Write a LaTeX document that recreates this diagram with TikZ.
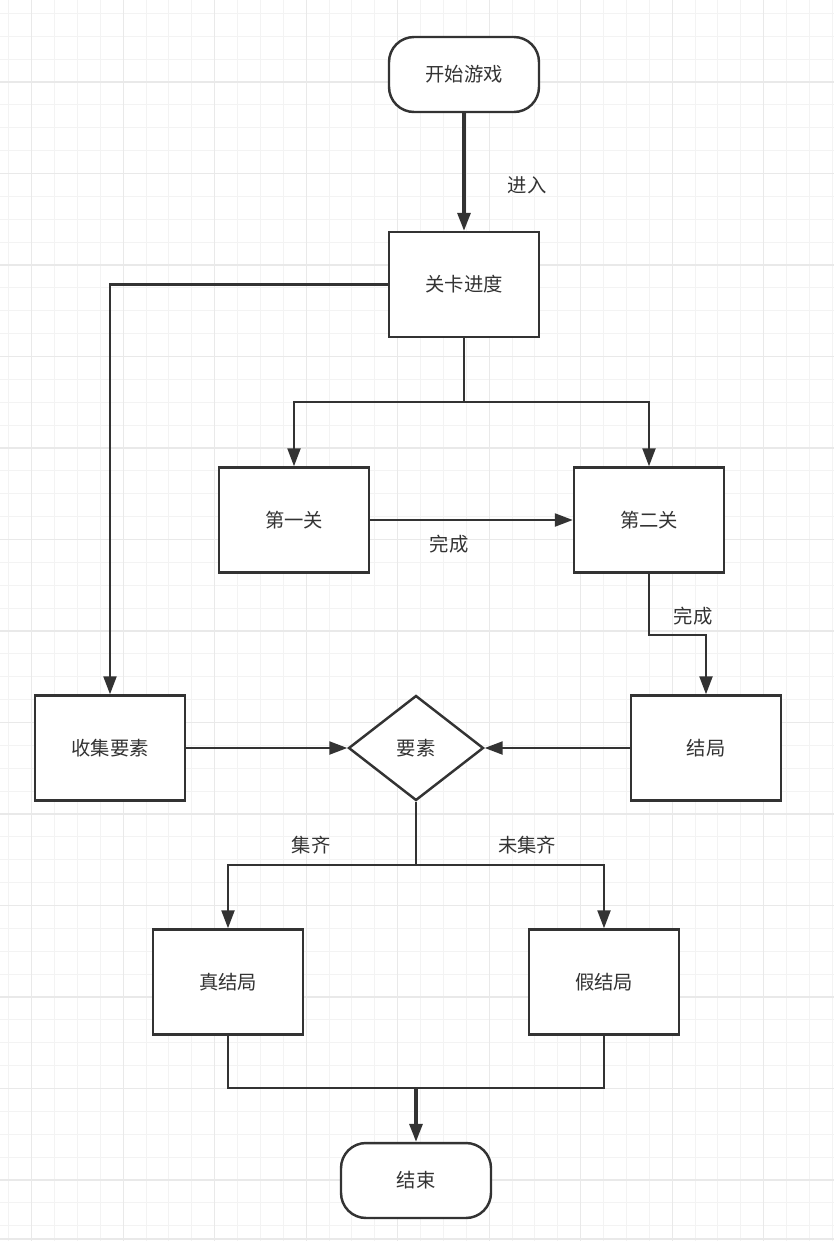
\documentclass[tikz,border=0pt]{standalone}
\usepackage{fontspec}
\setmainfont{Noto Sans CJK SC}
\usepackage{xcolor}
\usepackage{tikz}
\usetikzlibrary{arrows.meta}
\usetikzlibrary{shapes.geometric}
\definecolor{ink}{HTML}{333333}
\definecolor{gridminor}{HTML}{F3F3F3}
\definecolor{gridmajor}{HTML}{E9E9E9}

\begin{document}
\begin{tikzpicture}[x=0.02cm, y=-0.02cm, font=\fontsize{11}{13}\selectfont,
    box/.style={draw=ink, line width=1.4pt, fill=white, text=ink, minimum width=3cm, minimum height=2.1cm},
    term/.style={box, rounded corners=0.5cm, minimum height=1.5cm},
    choice/.style={diamond, draw=ink, line width=1.4pt, fill=white, text=ink, minimum width=2.7cm, minimum height=2.1cm, inner sep=0pt},
    arr/.style={draw=ink, line width=1.3pt, -{Triangle[length=3.6mm,width=2.6mm]}},
    lbl/.style={text=ink}] % Game flow

      \useasboundingbox (0,0) rectangle (834,1241);
      \fill [white] (0,0) rectangle (834,1241);
      \foreach \i in {-2,...,36} \draw [gridminor, line width=0.6pt] ({31.7+22.875*\i},0) -- ({31.7+22.875*\i},1241);
      \foreach \i in {-1,...,54} \draw [gridminor, line width=0.6pt] (0,{-9.5+22.875*\i}) -- (834,{-9.5+22.875*\i});
      \foreach \i in {0,...,9} \draw [gridmajor, line width=0.7pt] ({31.7+91.5*\i},0) -- ({31.7+91.5*\i},1241);
      \foreach \i in {0,...,13} \draw [gridmajor, line width=0.7pt] (0,{-9.5+91.5*\i}) -- (834,{-9.5+91.5*\i});
      \draw [gridmajor, line width=1pt] (0,1239) -- (834,1239);

      \node [term] (start) at (464,74.5) {开始游戏};
      \node [box] (prog) at (464,284.5) {关卡进度};
      \node [box] (lv1) at (294,520) {第一关};
      \node [box] (lv2) at (649,520) {第二关};
      \node [box] (collect) at (110,748) {收集要素};
      \node [choice] (elem) at (416,748) {要素};
      \node [box] (ending) at (706,748) {结局};
      \node [box] (trueend) at (228,982) {真结局};
      \node [box] (falseend) at (604,982) {假结局};
      \node [term] (finish) at (416,1180.5) {结束};

      \coordinate (split1) at (464,402);
      \coordinate (split2) at (416,865);
      \coordinate (join) at (416,1088);

      \draw [arr, line width=1.8pt] (start) -- (prog);
      \draw [arr] (prog.west) -| (collect.north);
      \draw [draw=ink, line width=1.3pt] (prog.south) -- (split1);
      \draw [arr] (split1) -| (lv1.north);
      \draw [arr] (split1) -| (lv2.north);
      \draw [arr] (lv1) -- (lv2);
      \draw [arr] (lv2.south) -- ++(0,61) -| (ending.north);
      \draw [arr] (collect) -- (elem);
      \draw [arr] (ending) -- (elem);
      \draw [draw=ink, line width=1.3pt] (elem.south) -- (split2);
      \draw [arr] (split2) -| (trueend.north);
      \draw [arr] (split2) -| (falseend.north);
      \draw [draw=ink, line width=1.3pt] (trueend.south) |- (join);
      \draw [draw=ink, line width=1.3pt] (falseend.south) |- (join);
      \draw [arr, line width=1.8pt] (join) -- (finish);

      \node [lbl] (enter) at (527,185) {进入};
      \node [lbl] (done1) at (449,544) {完成};
      \node [lbl] (done2) at (693,616) {完成};
      \node [lbl] (full) at (311,845) {集齐};
      \node [lbl] (notfull) at (527,845) {未集齐};

    \end{tikzpicture}
\end{document}
